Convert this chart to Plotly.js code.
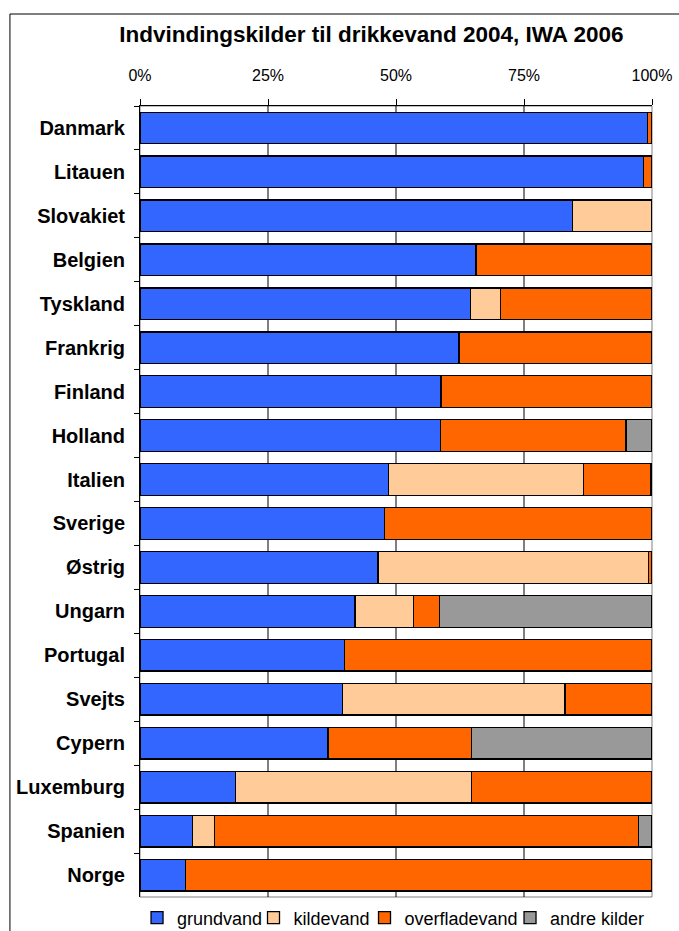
<!DOCTYPE html>
<html>
<head>
<meta charset="utf-8">
<script src="https://cdn.plot.ly/plotly-3.0.1.min.js"></script>
<style>html,body{margin:0;padding:0;background:#fff;}#chart{width:679px;height:931px;}</style>
</head>
<body>
<div id="chart"></div>
<script>
var countries = ["Danmark","Litauen","Slovakiet","Belgien","Tyskland","Frankrig","Finland","Holland","Italien","Sverige","Østrig","Ungarn","Portugal","Svejts","Cypern","Luxemburg","Spanien","Norge"];
var grundvand     = [99.1, 98.4, 84.5, 65.6, 64.5, 62.3, 58.8, 58.7, 48.6, 47.8, 46.5, 42.0, 40.0, 39.6, 36.7, 18.7, 10.3, 8.9];
var kildevand     = [0, 0, 15.5, 0, 5.9, 0, 0, 0, 38.0, 0, 52.8, 11.4, 0, 43.4, 0, 46.1, 4.3, 0];
var overfladevand = [0.9, 1.6, 0, 34.4, 29.6, 37.7, 41.2, 36.2, 13.1, 52.2, 0.7, 5.1, 60.0, 17.0, 28.1, 35.2, 82.7, 91.1];
var andreKilder   = [0, 0, 0, 0, 0, 0, 0, 5.1, 0.3, 0, 0, 41.5, 0, 0, 35.2, 0, 2.7, 0];
var seriesNames = ["grundvand","kildevand","overfladevand","andre kilder"];
var tickVals = [0, 25, 50, 75, 100];
var tickText = ["0%", "25%", "50%", "75%", "100%"];
var titleText = "Indvindingskilder til drikkevand 2004, IWA 2006";

var colors = ["#3366FF","#FFCC99","#FF6600","#999999"];
var legendIds = ["legend","legend2","legend3","legend4"];
var legendX = [-0.0058, 0.2217, 0.4385, 0.7227];
var seriesData = [grundvand, kildevand, overfladevand, andreKilder];
var traces = seriesData.map(function(vals, i){
  return {
    type: "bar", orientation: "h", name: seriesNames[i],
    legend: legendIds[i],
    y: countries,
    x: vals.map(function(v){ return v === 0 ? null : v; }),
    marker: {color: colors[i], line: {color: "#000", width: 1.3}},
    hoverinfo: "x+y+name"
  };
});

var font = "Liberation Sans, Arial, sans-serif";
var layout = {
  width: 679, height: 931,
  margin: {l: 140, r: 27, t: 106, b: 34, pad: 0, autoexpand: false},
  paper_bgcolor: "#fff", plot_bgcolor: "#fff",
  barmode: "stack", bargap: 0.28,
  showlegend: true,
  title: {text: titleText, font: {family: font, size: 22.5, weight: "bold", color: "#000"},
          xref: "container", x: 0.547, xanchor: "center", yref: "container", y: 0.963, yanchor: "middle"},
  xaxis: {side: "top", range: [0, 100], tickmode: "array", tickvals: tickVals, ticktext: tickText,
          showgrid: false, zeroline: false,
          showline: true, linecolor: "#000", linewidth: 1,
          ticks: "outside", ticklen: 6, tickcolor: "#000", ticklabelstandoff: 12,
          tickfont: {family: font, size: 16, color: "#000"}, fixedrange: true},
  yaxis: {type: "category", autorange: "reversed", showgrid: false, zeroline: false,
          showline: true, linecolor: "#000", linewidth: 1,
          ticks: "outside", ticklen: 5, tickcolor: "#000", tickson: "boundaries",
          ticklabelstandoff: 10,
          tickfont: {family: font, size: 20, weight: "bold", color: "#000"}, fixedrange: true},
  shapes: [
    {type: "rect", xref: "paper", yref: "paper", x0: 0, x1: 1, y0: 0, y1: 1,
     line: {color: "#808080", width: 1}, layer: "below"},
    {type: "rect", xref: "paper", yref: "paper", x0: -0.254, x1: 1.6, y0: -0.2, y1: 1.1163,
     line: {color: "#000", width: 1}, fillcolor: "rgba(0,0,0,0)", layer: "below"}
  ]
};
tickVals.forEach(function(v){
  if (v > tickVals[0] && v < tickVals[tickVals.length - 1]) {
    layout.shapes.push({type: "line", xref: "x", yref: "paper", x0: v, x1: v, y0: 0, y1: 1,
                        line: {color: "#000", width: 1}, layer: "below"});
  }
});
legendIds.forEach(function(id, i){
  layout[id] = {orientation: "h", x: legendX[i], xanchor: "left", y: -0.003, yanchor: "top",
                font: {family: font, size: 18, color: "#000"}, bgcolor: "rgba(0,0,0,0)",
                itemwidth: 30, borderwidth: 0};
});
Plotly.newPlot("chart", traces, layout, {displayModeBar: false, staticPlot: true});
</script>
</body>
</html>
